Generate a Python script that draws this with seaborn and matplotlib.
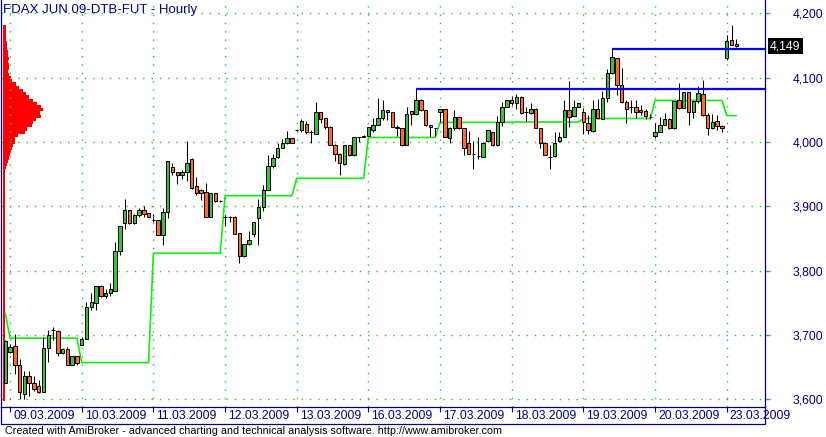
import numpy as np
import pandas as pd
import matplotlib
matplotlib.use("Agg")
import matplotlib.pyplot as plt
import matplotlib.transforms as mtransforms
from matplotlib.lines import Line2D
import seaborn as sns

sns.set_style("white")
plt.rcParams['font.family'] = ['Liberation Sans', 'DejaVu Sans']

# hourly candles, 06.03 last bar + 09.03 .. 23.03
opens = [3626, 3673, 3683, 3654, 3608, 3636, 3625, 3620, 3612, 3679, 3707, 3706, 3672, 3678, 3654, 3667,
         3685, 3694, 3744, 3750, 3776, 3760, 3765, 3769, 3830, 3874, 3894, 3874, 3886, 3894, 3889,
         3878, 3878, 3856, 3891, 3961, 3953, 3949, 3953, 3974, 3931, 3926, 3922, 3884, 3920, 3908,
         3884, 3884, 3884, 3858, 3823, 3841, 3857, 3882, 3899, 3925, 3963, 3976, 3991, 3998, 4006,
         4019, 4019, 4028, 4015, 4013, 4046, 4037, 4024, 3996, 3982, 3965, 3995, 3979, 4007, 4007,
         4010, 4018, 4027, 4037, 4049, 4046, 4024, 4021, 3996, 4048, 4043, 4066, 4049, 4026, 4021,
         4046, 4051, 4006, 4021, 4039, 4021, 3998, 3982, 3978, 3977, 4001, 4015, 3995, 4031, 4055,
         4065, 4061, 4070, 4046, 4045, 4052, 4021, 3999, 3977, 3978, 4001, 4007, 4049, 4041, 4055,
         4046, 4029, 4017, 4052, 4035, 4068, 4107, 4130, 4089, 4062, 4054, 4055, 4046, 4048, 4039,
         4010, 4016, 4027, 4036, 4021, 4065, 4053, 4077, 4046, 4063, 4075, 4042, 4021, 4032, 4025,
         4131, 4159, 4152]
highs = [3692, 3686, 3701, 3663, 3644, 3644, 3636, 3630, 3697, 3708, 3713, 3707, 3679, 3681, 3667, 3668,
         3697, 3751, 3765, 3776, 3777, 3772, 3780, 3844, 3869, 3911, 3895, 3888, 3897, 3900, 3890,
         3888, 3879, 3898, 3971, 3967, 3953, 3956, 4001, 3975, 3945, 3927, 3936, 3920, 3921, 3909,
         3887, 3885, 3885, 3858, 3841, 3862, 3875, 3911, 3933, 3979, 3982, 3999, 4004, 4017, 4006,
         4020, 4036, 4032, 4018, 4062, 4046, 4037, 4025, 3997, 3983, 3995, 3996, 4007, 4008, 4011,
         4023, 4037, 4068, 4065, 4050, 4047, 4027, 4022, 4054, 4048, 4082, 4067, 4050, 4027, 4022,
         4051, 4052, 4023, 4050, 4040, 4022, 4017, 4002, 4008, 4000, 4018, 4016, 4041, 4062, 4066,
         4072, 4075, 4071, 4054, 4060, 4053, 4022, 4000, 3995, 4016, 4015, 4065, 4095, 4065, 4061,
         4053, 4042, 4066, 4067, 4080, 4114, 4145, 4131, 4115, 4066, 4065, 4065, 4058, 4052, 4044,
         4029, 4039, 4045, 4037, 4064, 4092, 4078, 4078, 4063, 4087, 4096, 4045, 4043, 4042, 4026,
         4167, 4182, 4160]
lows = [3625, 3672, 3639, 3601, 3600, 3605, 3613, 3609, 3612, 3658, 3692, 3668, 3670, 3654, 3654, 3654,
        3685, 3694, 3739, 3739, 3759, 3758, 3760, 3769, 3825, 3864, 3873, 3873, 3884, 3883, 3883,
        3876, 3856, 3840, 3882, 3949, 3935, 3942, 3940, 3927, 3917, 3909, 3883, 3884, 3907, 3907,
        3870, 3876, 3857, 3812, 3821, 3840, 3852, 3840, 3892, 3925, 3959, 3975, 3990, 3997, 3999,
        4017, 4015, 4013, 3998, 4013, 4030, 4020, 3996, 3970, 3948, 3964, 3978, 3978, 4000, 4007,
        4010, 4016, 4026, 4034, 4034, 4023, 4010, 3993, 3996, 4027, 4042, 4048, 4025, 4008, 4010,
        4031, 4007, 3998, 4018, 4020, 3980, 3981, 3958, 3974, 3976, 4000, 3994, 3994, 4025, 4055,
        4058, 4052, 4044, 4033, 4044, 4021, 3990, 3979, 3958, 3977, 4000, 4007, 4023, 4040, 4055,
        4013, 4013, 4016, 4035, 4035, 4062, 4105, 4073, 4060, 4030, 4045, 4038, 4042, 4035, 4036,
        4006, 4015, 4027, 4020, 4020, 4052, 4053, 4026, 4038, 4060, 4040, 4011, 4020, 4018, 4016,
        4127, 4150, 4148]
closes = [3691, 3682, 3654, 3612, 3636, 3625, 3616, 3612, 3679, 3700, 3707, 3672, 3678, 3654, 3667, 3657,
          3694, 3744, 3751, 3776, 3760, 3765, 3771, 3830, 3869, 3895, 3874, 3886, 3895, 3888, 3883,
          3878, 3856, 3891, 3971, 3953, 3949, 3953, 3968, 3929, 3921, 3921, 3884, 3920, 3908, 3908,
          3884, 3884, 3857, 3823, 3841, 3847, 3875, 3899, 3925, 3962, 3975, 3990, 3998, 4006, 3999,
          4019, 4032, 4015, 4015, 4046, 4036, 4024, 3996, 3982, 3968, 3995, 3979, 4007, 4007, 4010,
          4023, 4027, 4038, 4049, 4046, 4024, 4021, 3995, 4043, 4043, 4066, 4049, 4026, 4023, 4021,
          4051, 4007, 4021, 4039, 4022, 3990, 3982, 3982, 3978, 3999, 4018, 3995, 4031, 4055, 4066,
          4060, 4070, 4045, 4046, 4051, 4021, 3998, 3979, 3977, 3999, 4007, 4049, 4039, 4055, 4060,
          4031, 4018, 4051, 4038, 4068, 4107, 4132, 4088, 4062, 4052, 4054, 4046, 4050, 4040, 4039,
          4016, 4027, 4036, 4021, 4064, 4053, 4078, 4046, 4063, 4076, 4042, 4021, 4031, 4025, 4021,
          4157, 4151, 4149]

day_labels = ["09.03.2009", "10.03.2009", "11.03.2009", "12.03.2009", "13.03.2009", "16.03.2009",
              "17.03.2009", "18.03.2009", "19.03.2009", "20.03.2009", "23.03.2009"]
day_start = [1, 16, 31, 46, 61, 76, 91, 106, 121, 136, 151]

# green stepped level (one value per session)
stop_levels = [3734, 3695, 3657, 3827, 3916.5, 3943.5, 4007, 4030.5, 4031, 4036.5, 4064.5, 4041]
stop_counts = [1, 15, 15, 15, 15, 15, 15, 15, 15, 15, 15, 3]

# blue resistance lines (from the bar high to the right edge)
res_levels = [4082, 4144.5]
res_start = [86, 127]
last_price = 4149

price_ticks = [3600, 3700, 3800, 3900, 4000, 4100, 4200]
price_labels = ["3,600", "3,700", "3,800", "3,900", "4,000", "4,100", "4,200"]

# volume profile on the left (bin width in pixels-ish units)
profile_prices = np.arange(3600, 4185, 5)
profile_width = [1.4] * 71 + [2, 3, 4, 5, 6, 7, 8, 9, 10, 12, 12, 15, 22, 24, 29, 30, 33, 38, 37, 40,
                              38, 34, 30, 26, 23, 20, 16, 13, 9, 8, 5.5, 5, 6, 5.5, 5, 6, 5, 5, 4,
                              3.5, 3.5, 2.5, 2.5, 2.5, 2.5, 2.5]

NAVY = "#000080"
UP = "#3cc03c"
DOWN = "#ff6a28"
GRID = "#2cbf2c"

df = pd.DataFrame({"o": opens, "h": highs, "l": lows, "c": closes})
df["i"] = np.arange(len(df))
df["stop"] = np.repeat(stop_levels, stop_counts)

W, H = 826, 437
fig = plt.figure(figsize=(W / 100, H / 100), dpi=100)
ax = fig.add_axes([1 / W, (H - 407.3) / H, 764 / W, 407.3 / H])
ax.set_xlim(-0.889, 159.01)
ax.set_ylim(3587.5, 4220.7)

# profile behind the price bars
axp = ax.twiny()
axp.set_xlim(-2.3, 761.7)
axp.barh(profile_prices, profile_width, height=5, color="#ff0000", linewidth=0)
axp.axis("off")
axp.set_zorder(0)
ax.set_zorder(1)
ax.patch.set_visible(False)

# grid
ax.set_yticks(price_ticks)
ax.set_yticklabels(price_labels)
ax.set_xticks(day_start)
ax.set_xticklabels([])
ax.grid(True, linestyle=(0, (1, 5)), color=GRID, linewidth=1.0)

# green level line
sns.lineplot(data=df, x="i", y="stop", color="#11ee11", linewidth=1.2, ax=ax, zorder=2)

# candles
ax.vlines(df["i"], df["l"], df["h"], color="black", linewidth=0.75, zorder=3)
body_lo = np.minimum(df["o"], df["c"])
body_h = np.abs(df["c"] - df["o"])
colors = np.where(df["c"] >= df["o"], UP, DOWN)
colors = np.where(body_h == 0, "black", colors)
ax.bar(df["i"], body_h, bottom=body_lo, width=0.72, color=colors, edgecolor="black",
       linewidth=0.7, zorder=4)

# resistance lines
for lev, st in zip(res_levels, res_start):
    ax.hlines(lev, st, 159.01, color="#0000ff", linewidth=1.6, zorder=5)

ax.set_xlabel("")
ax.set_ylabel("")
ax.yaxis.tick_right()
ax.tick_params(axis="y", length=3.6, width=1, color=GRID, labelcolor=NAVY, pad=16.5, labelsize=8.7)
ax.tick_params(axis="x", direction="out", length=3.3, width=0.8, color=NAVY)
for side in ["left", "bottom", "right"]:
    ax.spines[side].set_color(NAVY)
    ax.spines[side].set_linewidth(0.9)
ax.spines["top"].set_visible(False)

# date labels
off = mtransforms.ScaledTranslation(3 / 100, 0, fig.dpi_scale_trans)
btr = mtransforms.blended_transform_factory(ax.transData, ax.transAxes) + off
for d, lab in zip(day_start, day_labels):
    ax.text(d, -8.6 / 407.3, lab, transform=btr, ha="left", va="center", fontsize=8.7, color=NAVY)

# last price box
ltr = mtransforms.blended_transform_factory(ax.transAxes, ax.transData)
ax.text(1 + 5 / 764, last_price, "4,149", transform=ltr, ha="left", va="center", fontsize=8.7,
        color="white", bbox=dict(boxstyle="square,pad=0.18", fc="black", ec="none"), clip_on=False)

# date strip frame
yb = (H - 424.3) / H
yt = (H - 407.3) / H
fig.add_artist(Line2D([0.5 / W, 765 / W], [yb, yb], color=NAVY, linewidth=0.9))
fig.add_artist(Line2D([0.8 / W, 0.8 / W], [yb, yt], color=NAVY, linewidth=0.9))
fig.add_artist(Line2D([765 / W, 765 / W], [yb, yt], color=NAVY, linewidth=0.9))

fig.text(3.3 / W, 1 - 10.5 / H, "FDAX JUN 09-DTB-FUT - Hourly", color=NAVY, fontsize=9.5,
         ha="left", va="center")
fig.text(5 / W, 1 - 430.5 / H,
         "Created with AmiBroker - advanced charting and technical analysis software. http://www.amibroker.com",
         color="black", fontsize=7.75, ha="left", va="center")

fig.savefig("out.png", dpi=100)
